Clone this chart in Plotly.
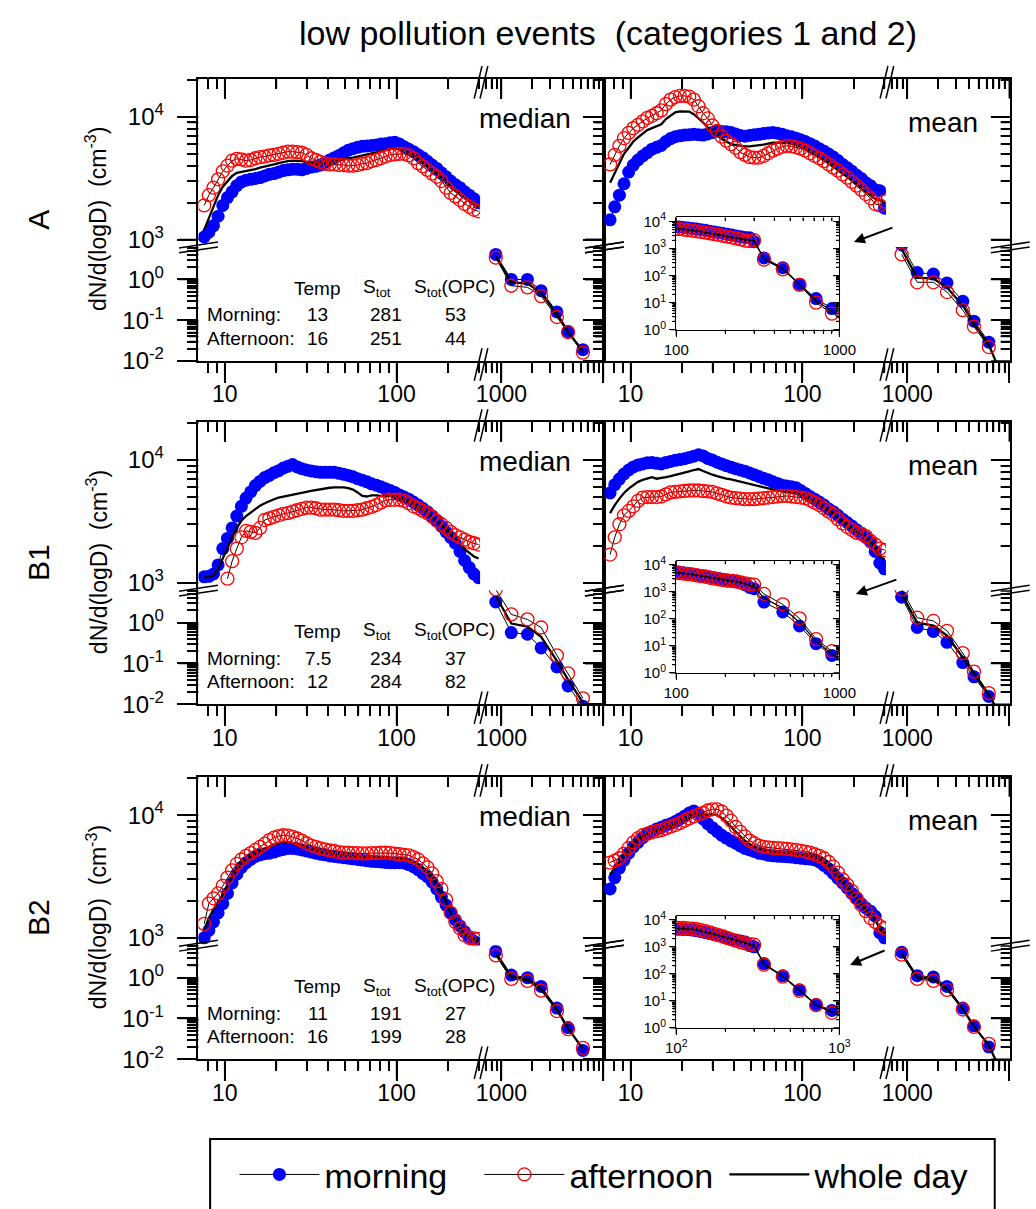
import math
import plotly.graph_objects as go

FONT = "Liberation Sans, Arial, Helvetica, sans-serif"
W, H = 1036, 1209

# ---------------- data ----------------
D_SMPS = [7.60, 8.09, 8.61, 9.16, 9.75, 10.38, 11.05, 11.76, 12.51, 13.32,
          14.17, 15.09, 16.06, 17.09, 18.19, 19.36, 20.60, 21.92, 23.33, 24.83,
          26.42, 28.12, 29.93, 31.85, 33.90, 36.08, 38.39, 40.86, 43.49, 46.28,
          49.26, 52.42, 55.79, 59.37, 63.19, 67.25, 71.57, 76.17, 81.06, 86.27,
          91.81, 97.72, 104.0, 110.7, 117.8, 125.4, 133.5, 142.1, 151.2, 160.9,
          171.3, 182.3, 194.1, 206.5, 219.8, 233.9, 248.9, 265.0, 282.0, 300.1]
D_OPC = [880, 1250, 1800, 2450, 3500, 4500, 6300, 8000]
D_INSET_OPC = [345, 450, 570, 720, 900, 1100]
INSET_FROM = 41  # first SMPS channel shown in the insets (>= ~100 nm)

# Row A, median
A_med_morn = [1050, 1150, 1300, 1550, 1900, 2200, 2450, 2750, 2950, 3050,
              3100, 3150, 3200, 3300, 3400, 3450, 3550, 3650, 3700, 3750,
              3750, 3700, 3800, 3900, 3950, 4050, 4250, 4450, 4650, 4850,
              5100, 5350, 5500, 5650, 5750, 5800, 5850, 5900, 6000, 6050,
              6150, 6200, 6000, 5700, 5450, 5200, 4900, 4650, 4350, 4050,
              3800, 3500, 3250, 3000, 2800, 2650, 2450, 2300, 2150, 2000]
A_med_aft = [1900, 2300, 2650, 3100, 3600, 4000, 4400, 4550, 4500, 4400,
             4450, 4600, 4700, 4750, 4850, 4900, 5000, 5100, 5200, 5200,
             5150, 5100, 4900, 4600, 4450, 4300, 4150, 4100, 4100, 4050,
             4050, 4000, 4000, 4050, 4150, 4200, 4350, 4450, 4600, 4750,
             4900, 4950, 5000, 5000, 4850, 4600, 4200, 3950, 3700, 3450,
             3250, 3000, 2650, 2400, 2250, 2100, 1950, 1850, 1750, 1700]
A_med_day = [1200, 1500, 1900, 2300, 2700, 3000, 3300, 3500, 3550, 3600,
             3650, 3750, 3850, 3950, 4050, 4100, 4200, 4300, 4350, 4400,
             4400, 4350, 4300, 4200, 4150, 4150, 4200, 4250, 4350, 4450,
             4550, 4600, 4650, 4750, 4850, 4900, 5000, 5100, 5250, 5350,
             5450, 5500, 5450, 5300, 5100, 4850, 4500, 4250, 3950, 3700,
             3500, 3250, 2950, 2700, 2500, 2350, 2200, 2050, 1950, 1850]
A_med_opc_morn = [4.1, 1.0, 1.0, 0.53, 0.16, 0.053, 0.019]
A_med_opc_aft = [3.4, 0.70, 0.64, 0.39, 0.12, 0.051, 0.016]
A_med_opc_day = [3.7, 0.85, 0.80, 0.46, 0.14, 0.052, 0.017]

# Row A, mean
A_mean_morn = [1450, 1850, 2300, 2850, 3550, 4050, 4450, 4800, 5100, 5450,
               5650, 5850, 6300, 6650, 6900, 7000, 7100, 7150, 7200, 7150,
               7100, 7250, 7450, 7600, 7600, 7550, 7450, 7250, 7050, 6950,
               7050, 7150, 7200, 7300, 7400, 7450, 7350, 7200, 7000, 6900,
               6700, 6500, 6300, 6050, 5800, 5500, 5250, 4980, 4700, 4400,
               4100, 3850, 3600, 3350, 3150, 2900, 2750, 2550, 2500, 1800]
A_mean_aft = [4100, 4900, 5800, 6700, 7400, 8100, 8600, 9200, 9800, 10200,
              10700, 11300, 12700, 13800, 14500, 14800, 14800, 14600, 13800, 12200,
              10700, 9700, 8500, 7700, 6900, 6400, 6000, 5600, 5150, 4900,
              4700, 4650, 4650, 4800, 5050, 5300, 5500, 5700, 5800, 5750,
              5650, 5500, 5300, 5050, 4800, 4600, 4350, 4100, 3850, 3650,
              3400, 3200, 2950, 2750, 2550, 2350, 2170, 1950, 1900, 2050]
A_mean_day = [2900, 3500, 4200, 5000, 5600, 6300, 6800, 7300, 7800, 8100,
              8400, 8700, 9600, 10300, 10900, 11100, 11100, 11050, 10500, 9800,
              9000, 8200, 7600, 7000, 6600, 6300, 6000, 5900, 5800, 5750,
              5750, 5800, 5850, 5950, 6050, 6150, 6150, 6150, 6150, 6050,
              5900, 5700, 5500, 5250, 5000, 4750, 4500, 4250, 3950, 3700,
              3450, 3250, 3050, 2850, 2650, 2450, 2300, 2150, 2100, 1950]
A_mean_opc_morn = [7.0, 1.47, 1.35, 0.82, 0.29, 0.095, 0.029]
A_mean_opc_aft = [4.1, 0.85, 0.85, 0.49, 0.176, 0.070, 0.022]
A_mean_opc_day = [5.5, 1.10, 1.05, 0.63, 0.23, 0.082, 0.025, 0.006]
A_ins_morn = [450, 195, 48, 14, 6.0]
A_ins_aft = [390, 170, 45, 9.9, 3.9]
A_ins_day = [420, 180, 46, 12, 4.8, 1.6]

# Row B1, median
B1_med_morn = [1120, 1130, 1180, 1400, 1900, 2300, 2800, 3500, 4200, 4900,
               5500, 6200, 6700, 7200, 7500, 7900, 8200, 8600, 8900, 9200,
               8800, 8500, 8300, 8150, 8050, 7950, 7950, 7950, 7950, 7800,
               7650, 7500, 7300, 7050, 6850, 6650, 6400, 6250, 6050, 5850,
               5650, 5450, 5200, 5000, 4800, 4550, 4300, 4050, 3800, 3500,
               3200, 2900, 2600, 2350, 2100, 1800, 1520, 1330, 1180, 1100]
B1_med_aft = [None, None, None, None, None, 1080, 1500, 1900, 2350, 2650,
              2600, 2550, 2800, 3250, 3350, 3450, 3550, 3650, 3700, 3800,
              3900, 4000, 4100, 4100, 4050, 3950, 3950, 3950, 3950, 3900,
              3850, 3850, 3850, 3900, 3950, 4050, 4150, 4300, 4500, 4700,
              4750, 4750, 4750, 4650, 4450, 4200, 4050, 3850, 3700, 3450,
              3200, 3000, 2800, 2600, 2450, 2350, 2250, 2150, 2100, 2050]
B1_med_day = [1100, 1120, 1150, 1300, 1600, 1950, 2350, 2800, 3200, 3500,
              3750, 4000, 4250, 4450, 4650, 4800, 4950, 5050, 5150, 5250,
              5350, 5450, 5500, 5600, 5700, 5800, 5900, 5950, 6000, 6000,
              6000, 5900, 5750, 5450, 5100, 5050, 5150, 5150, 5100, 5050,
              5150, 5050, 4950, 4800, 4600, 4350, 4150, 3950, 3750, 3480,
              3200, 2950, 2700, 2480, 2280, 2070, 1880, 1740, 1640, 1580]
B1_med_opc_morn = [3.2, 0.57, 0.52, 0.24, 0.082, 0.028, 0.009]
B1_med_opc_aft = [6.5, 1.59, 1.2, 0.76, 0.158, 0.057, 0.014]
B1_med_opc_day = [4.5, 0.95, 0.80, 0.45, 0.115, 0.040, 0.011]

# Row B1, mean
B1_mean_morn = [5400, 6300, 7000, 7700, 8300, 8800, 9100, 9300, 9500, 9550,
                9400, 9300, 9550, 9750, 9950, 10100, 10250, 10500, 10750, 11050,
                10800, 10300, 10000, 9600, 9300, 9000, 8750, 8500, 8300, 8100,
                7850, 7600, 7350, 7100, 6900, 6650, 6450, 6250, 6150, 6050,
                5950, 5650, 5350, 5050, 4800, 4550, 4300, 4000, 3800, 3550,
                3300, 3100, 2900, 2700, 2550, 2350, 2150, 1800, 1450, 1300]
B1_mean_aft = [1700, 2350, 3000, 3550, 3850, 4200, 4650, 4950, 5000, 5000,
               5000, 5050, 5250, 5450, 5500, 5550, 5600, 5650, 5650, 5650,
               5600, 5550, 5500, 5350, 5200, 5050, 4950, 4900, 4850, 4800,
               4800, 4800, 4850, 4900, 4950, 5000, 5050, 5100, 5100, 5050,
               5000, 4950, 4900, 4700, 4500, 4300, 4050, 3800, 3600, 3300,
               3050, 2850, 2700, 2550, 2500, 2400, 2200, 2050, 1900, 1850]
B1_mean_day = [3700, 4300, 4850, 5400, 5850, 6250, 6650, 6900, 7100, 7250,
               7050, 7100, 7250, 7400, 7550, 7700, 7900, 8100, 8300, 8450,
               8150, 7850, 7600, 7400, 7200, 7050, 6950, 6800, 6650, 6500,
               6400, 6250, 6100, 5950, 5850, 5750, 5650, 5550, 5450, 5400,
               5350, 5250, 5100, 4850, 4650, 4400, 4150, 3900, 3700, 3400,
               3150, 2950, 2800, 2620, 2520, 2380, 2180, 1920, 1650, 1550]
B1_mean_opc_morn = [4.2, 0.76, 0.61, 0.33, 0.105, 0.047, 0.0155]
B1_mean_opc_aft = [6.5, 1.32, 1.10, 0.63, 0.179, 0.063, 0.0187]
B1_mean_opc_day = [5.0, 1.00, 0.85, 0.48, 0.14, 0.055, 0.017, 0.006]
B1_ins_morn = [415, 180, 54, 12, 4.4]
B1_ins_aft = [830, 340, 103, 17.7, 6.3]
B1_ins_day = [580, 250, 75, 14.5, 5.3, 2.0]

# Row B2, median
B2_med_morn = [1000, 1150, 1350, 1600, 1900, 2300, 2800, 3300, 3750, 4100,
               4350, 4600, 4750, 4850, 4900, 5000, 5150, 5250, 5350, 5350,
               5300, 5200, 5100, 5000, 4900, 4800, 4750, 4650, 4600, 4550,
               4500, 4450, 4400, 4350, 4300, 4250, 4200, 4180, 4150, 4120,
               4100, 4100, 4100, 4080, 3950, 3800, 3600, 3350, 3150, 2850,
               2500, 2150, 1850, 1600, 1400, 1250, 1120, 1020, 940, 900]
B2_med_aft = [1300, 1900, 2100, 2300, 2650, 3100, 3550, 4000, 4350, 4650,
              4900, 5200, 5500, 5850, 6250, 6550, 6750, 6850, 6800, 6650,
              6450, 6200, 5900, 5650, 5500, 5350, 5250, 5150, 5100, 5000,
              4950, 4950, 4900, 4900, 4870, 4870, 4900, 4900, 4950, 4950,
              4900, 4850, 4800, 4750, 4700, 4550, 4350, 4050, 3750, 3350,
              2900, 2500, 2050, 1600, 1350, 1200, 1050, 1000, 990, 980]
B2_med_day = [1150, 1450, 1700, 1950, 2250, 2700, 3150, 3650, 4050, 4350,
              4600, 4900, 5100, 5300, 5550, 5750, 5900, 6000, 6000, 5950,
              5850, 5650, 5450, 5300, 5200, 5050, 4950, 4900, 4850, 4750,
              4700, 4650, 4650, 4600, 4550, 4550, 4550, 4500, 4550, 4500,
              4500, 4450, 4450, 4400, 4300, 4150, 3950, 3700, 3450, 3100,
              2700, 2300, 1950, 1600, 1380, 1220, 1080, 1010, 960, 940]
B2_med_opc_morn = [4.4, 1.16, 1.0, 0.61, 0.18, 0.060, 0.0165]
B2_med_opc_aft = [3.5, 0.93, 0.83, 0.48, 0.152, 0.055, 0.019]
B2_med_opc_day = [3.9, 1.05, 0.92, 0.54, 0.165, 0.057, 0.018]

# Row B2, mean
B2_mean_morn = [2500, 3100, 3700, 4300, 4900, 5500, 6000, 6550, 7050, 7400,
                7700, 7950, 8250, 8500, 8850, 9300, 9800, 10400, 10800, 10300,
                9300, 8500, 7900, 7350, 6850, 6500, 6150, 5900, 5600, 5350,
                5200, 5050, 4900, 4820, 4720, 4660, 4620, 4600, 4580, 4550,
                4500, 4450, 4420, 4380, 4320, 4150, 3900, 3650, 3350, 3050,
                2800, 2550, 2300, 2100, 1900, 1750, 1650, 1500, 1100, 1000]
B2_mean_aft = [4100, 4250, 4450, 4850, 5400, 6000, 6500, 6850, 7050, 7250,
               7400, 7550, 7800, 8050, 8300, 8600, 9000, 9400, 9750, 10100,
               10400, 10900, 11150, 11150, 10700, 9900, 9000, 8000, 7300, 6700,
               6200, 5900, 5650, 5500, 5450, 5400, 5380, 5350, 5300, 5250,
               5200, 5120, 5050, 4950, 4800, 4650, 4450, 4150, 3800, 3400,
               3000, 2700, 2400, 2100, 1850, 1650, 1450, 1350, 1250, 1200]
B2_mean_day = [3300, 3700, 4100, 4600, 5200, 5750, 6250, 6700, 7000, 7300,
               7550, 7750, 8000, 8250, 8550, 8900, 9350, 9850, 10200, 10200,
               10000, 10050, 10200, 10000, 9500, 8800, 8000, 7300, 6700, 6200,
               5800, 5500, 5300, 5180, 5100, 5050, 5000, 4980, 4950, 4900,
               4850, 4800, 4750, 4680, 4580, 4420, 4150, 3850, 3500, 3150,
               2850, 2600, 2330, 2100, 1870, 1700, 1550, 1420, 1180, 1100]
B2_mean_opc_morn = [4.2, 1.12, 1.04, 0.61, 0.18, 0.066, 0.020]
B2_mean_opc_aft = [3.65, 0.93, 0.83, 0.50, 0.166, 0.062, 0.024]
B2_mean_opc_day = [3.9, 1.02, 0.93, 0.55, 0.172, 0.064, 0.022, 0.006]
B2_ins_morn = [238, 85, 25.5, 7.3, 4.4]
B2_ins_aft = [218, 78, 23.4, 6.9, 3.6]
B2_ins_day = [228, 81, 24.4, 7.1, 4.0, 2.2]

# table values (Temp, S_tot, S_tot(OPC)) for morning / afternoon
A_table = [["13", "281", "53"], ["16", "251", "44"]]
B1_table = [["7.5", "234", "37"], ["12", "284", "82"]]
B2_table = [["11", "191", "27"], ["16", "199", "28"]]

ROW_NAMES = ["A", "B1", "B2"]
TITLE = "low pollution events\u00a0\u00a0(categories 1 and 2)"
YTITLE = "dN/d(logD)\u00a0\u00a0(cm<sup>-3</sup>)"

# tick labels
XL_MAJOR, XL_TEXT = [10, 100], ["10", "100"]
XR_MAJOR, XR_TEXT = [1000, 10000], ["1000", ""]
YU_MAJOR, YU_TEXT = [1000, 10000], ["10<sup>3</sup>", "10<sup>4</sup>"]
YL_MAJOR, YL_TEXT = [0.01, 0.1, 1], ["10<sup>-2</sup>", "10<sup>-1</sup>", "10<sup>0</sup>"]
IX_MAJOR = [100, 1000]
IX_TEXT_PLAIN = ["100", "1000"]
IX_TEXT_POW = ["10<sup>2</sup>", "10<sup>3</sup>"]
IY_MAJOR = [1, 10, 100, 1000, 10000]
IY_TEXT = ["10<sup>0</sup>", "10<sup>1</sup>", "10<sup>2</sup>", "10<sup>3</sup>", "10<sup>4</sup>"]

XL_MINOR = [8, 9] + [k * 10 for k in range(2, 10)] + [200, 300]
XR_MINOR = [700, 800, 900] + [k * 1000 for k in range(2, 10)]
YU_MINOR = [k * 1000 for k in range(2, 10)] + [20000]
YL_MINOR = [k * 0.01 for k in range(2, 10)] + [k * 0.1 for k in range(2, 10)] + [2, 3, 4, 5, 6]
IX_MINOR = [k * 100 for k in range(2, 10)]
IY_MINOR = [k * 10 ** e for e in range(0, 4) for k in range(2, 10)]

PANELS = [
    dict(row=0, col=0, label="median", morn=A_med_morn, aft=A_med_aft, day=A_med_day,
         om=A_med_opc_morn, oa=A_med_opc_aft, od=A_med_opc_day, table=A_table),
    dict(row=0, col=1, label="mean", morn=A_mean_morn, aft=A_mean_aft, day=A_mean_day,
         om=A_mean_opc_morn, oa=A_mean_opc_aft, od=A_mean_opc_day,
         inset=(A_ins_morn, A_ins_aft, A_ins_day), itext=IX_TEXT_PLAIN),
    dict(row=1, col=0, label="median", morn=B1_med_morn, aft=B1_med_aft, day=B1_med_day,
         om=B1_med_opc_morn, oa=B1_med_opc_aft, od=B1_med_opc_day, table=B1_table),
    dict(row=1, col=1, label="mean", morn=B1_mean_morn, aft=B1_mean_aft, day=B1_mean_day,
         om=B1_mean_opc_morn, oa=B1_mean_opc_aft, od=B1_mean_opc_day,
         inset=(B1_ins_morn, B1_ins_aft, B1_ins_day), itext=IX_TEXT_PLAIN),
    dict(row=2, col=0, label="median", morn=B2_med_morn, aft=B2_med_aft, day=B2_med_day,
         om=B2_med_opc_morn, oa=B2_med_opc_aft, od=B2_med_opc_day, table=B2_table),
    dict(row=2, col=1, label="mean", morn=B2_mean_morn, aft=B2_mean_aft, day=B2_mean_day,
         om=B2_mean_opc_morn, oa=B2_mean_opc_aft, od=B2_mean_opc_day,
         inset=(B2_ins_morn, B2_ins_aft, B2_ins_day), itext=IX_TEXT_POW),
]

# ---------------- geometry (pixels) ----------------
ROW_TOP = [73, 422, 783]
UP_H, LO_H = 171, 116
COLS = [(191, 481, 609), (609, 899, 1027)]
XL_RANGE = [0.8475, 2.486]
XR_RANGE = [2.7905, 4.0095]
YU_RANGE = [2.94, 4.31]
YL_RANGE = [-2.0, 0.795]
IX_RANGE = [2, 3]
IY_RANGE = [0, 4.15]
INSET_X = (683, 851)
INSET_Y = (141, 255)
ARROWS = [((866, 239), (40, -15)), ((868, 597), (42, -15)), ((862, 974), (36, -15))]


def fx(px):
    return px / W


def fy(py):
    return 1 - py / H


def xid(n):
    return "x" if n == 1 else f"x{n}"


def yid(n):
    return "y" if n == 1 else f"y{n}"


def xkey(n):
    return "xaxis" if n == 1 else f"xaxis{n}"


def ykey(n):
    return "yaxis" if n == 1 else f"yaxis{n}"


def log_axis(domain, rng, major, text, minor, side, ticks, showlabels, anchor,
             ticklen=20, minorlen=10, fontsize=23, standoff=None, lw=1.5):
    d = dict(type="log", range=rng, anchor=anchor, side=side, domain=domain,
             showline=True, linecolor="black", linewidth=lw,
             showgrid=False, zeroline=False,
             ticks=ticks, ticklen=ticklen, tickwidth=lw, tickcolor="black",
             tickmode="array", tickvals=major, ticktext=text,
             showticklabels=showlabels,
             tickfont=dict(family=FONT, size=fontsize, color="black"),
             minor=dict(tickmode="array", tickvals=minor, ticks=ticks, ticklen=minorlen,
                        tickwidth=lw, tickcolor="black", showgrid=False))
    if standoff is not None:
        d["ticklabelstandoff"] = standoff
    return d


# tick marks along the axis frames (same log scale as the axes: domain + range)
def _frac(v, rng):
    return (math.log10(v) - rng[0]) / (rng[1] - rng[0])


def x_ticks(vals, rng, p0, p1, ybase, length):
    segs = []
    for v in vals:
        f = _frac(v, rng)
        if 0 <= f <= 1:
            xp = p0 + f * (p1 - p0)
            segs.append(f"M{fx(xp):.5f},{fy(ybase):.5f}L{fx(xp):.5f},{fy(ybase + length):.5f}")
    return segs


def y_ticks(vals, rng, top, bottom, xbase, length):
    segs = []
    for v in vals:
        f = _frac(v, rng)
        if 0 <= f <= 1:
            yp = bottom - f * (bottom - top)
            segs.append(f"M{fx(xbase):.5f},{fy(yp):.5f}L{fx(xbase - length):.5f},{fy(yp):.5f}")
    return segs


def tick_shape(segs, width):
    return dict(type="path", xref="paper", yref="paper", path="".join(segs),
                line=dict(color="black", width=width))


MORN = dict(mode="lines+markers", line=dict(color="black", width=1),
            marker=dict(symbol="circle", color="#0000ff", size=13))
AFT = dict(mode="lines+markers", line=dict(color="black", width=1),
           marker=dict(symbol="circle-open", color="#ff0000", size=13, line=dict(width=1.3)))
DAY = dict(mode="lines", line=dict(color="black", width=2.3))

layout = {}
traces = []
shapes = []
annotations = []

for p, P in enumerate(PANELS):
    T = ROW_TOP[P["row"]]
    B = T + UP_H + LO_H
    x0, xb, x1 = COLS[P["col"]]
    b = 4 * p
    xLb, xLt, xRb, xRt = b + 1, b + 2, b + 3, b + 4
    yUl, yUr, yLl, yLr = b + 1, b + 2, b + 3, b + 4
    xl_dom = [fx(x0), fx(xb)]
    xr_dom = [fx(xb), fx(x1)]
    up_dom = [fy(T + UP_H), fy(T)]
    lo_dom = [fy(B), fy(T + UP_H)]
    showy = P["col"] == 0

    # four corner pairs, each x/y anchored to each other
    layout[xkey(xLt)] = log_axis(xl_dom, XL_RANGE, XL_MAJOR, XL_TEXT, XL_MINOR, "top", "inside",
                                 False, yid(yUl))
    layout[ykey(yUl)] = log_axis(up_dom, YU_RANGE, YU_MAJOR, YU_TEXT, YU_MINOR, "left", "outside",
                                 showy, xid(xLt), fontsize=24, standoff=8)
    layout[xkey(xRb)] = log_axis(xr_dom, XR_RANGE, XR_MAJOR, XR_TEXT, XR_MINOR, "bottom", "outside",
                                 True, yid(yLr), standoff=-8)
    layout[ykey(yLr)] = log_axis(lo_dom, YL_RANGE, YL_MAJOR, YL_TEXT, YL_MINOR, "right", "inside",
                                 False, xid(xRb))
    layout[xkey(xLb)] = log_axis(xl_dom, XL_RANGE, XL_MAJOR, XL_TEXT, XL_MINOR, "bottom", "outside",
                                 True, yid(yLl), standoff=-8)
    layout[ykey(yLl)] = log_axis(lo_dom, YL_RANGE, YL_MAJOR, YL_TEXT, YL_MINOR, "left", "outside",
                                 showy, xid(xLb), fontsize=24, standoff=8)
    layout[xkey(xRt)] = log_axis(xr_dom, XR_RANGE, XR_MAJOR, XR_TEXT, XR_MINOR, "top", "inside",
                                 False, yid(yUr))
    layout[ykey(yUr)] = log_axis(up_dom, YU_RANGE, YU_MAJOR, YU_TEXT, YU_MINOR, "right", "inside",
                                 False, xid(xRt))

    first = p == 0
    sm = dict(xaxis=xid(xLt), yaxis=yid(yUl))
    op = dict(xaxis=xid(xRb), yaxis=yid(yLr))
    traces.append(go.Scatter(x=D_SMPS, y=P["morn"], name="morning", legendgroup="m",
                             legendrank=1, showlegend=first, **MORN, **sm))
    traces.append(go.Scatter(x=D_SMPS, y=P["day"], name="whole day", legendgroup="d",
                             legendrank=3, showlegend=first, **DAY, **sm))
    traces.append(go.Scatter(x=D_SMPS, y=P["aft"], name="afternoon", legendgroup="a",
                             legendrank=2, showlegend=first, **AFT, **sm))
    traces.append(go.Scatter(x=D_OPC[:len(P["om"])], y=P["om"], legendgroup="m",
                             showlegend=False, **MORN, **op))
    traces.append(go.Scatter(x=D_OPC[:len(P["od"])], y=P["od"], legendgroup="d",
                             showlegend=False, **DAY, **op))
    traces.append(go.Scatter(x=D_OPC[:len(P["oa"])], y=P["oa"], legendgroup="a",
                             showlegend=False, **AFT, **op))
    # the whole-day series also registered against the other two corner pairs
    # (there they fall outside the visible range, so they only carry the frame axes)
    traces.append(go.Scatter(x=D_OPC[:len(P["od"])], y=P["od"], showlegend=False, **DAY,
                             xaxis=xid(xLb), yaxis=yid(yLl)))
    traces.append(go.Scatter(x=D_SMPS, y=P["day"], showlegend=False, **DAY,
                             xaxis=xid(xRt), yaxis=yid(yUr)))

    # frame tick marks: x ticks point down (outside at bottom, inside at top),
    # y ticks point left (outside on the left, inside on the right)
    for vals, ln in ((XL_MAJOR, 20), (XL_MINOR, 10)):
        shapes.append(tick_shape(x_ticks(vals, XL_RANGE, x0, xb, B, ln) +
                                 x_ticks(vals, XL_RANGE, x0, xb, T, ln), 1.5))
    for vals, ln in ((XR_MAJOR, 20), (XR_MINOR, 10)):
        shapes.append(tick_shape(x_ticks(vals, XR_RANGE, xb, x1, B, ln) +
                                 x_ticks(vals, XR_RANGE, xb, x1, T, ln), 1.5))
    for vals, ln in ((YU_MAJOR, 20), (YU_MINOR, 10)):
        shapes.append(tick_shape(y_ticks(vals, YU_RANGE, T, T + UP_H, x0, ln) +
                                 y_ticks(vals, YU_RANGE, T, T + UP_H, x1, ln), 1.5))
    for vals, ln in ((YL_MAJOR, 20), (YL_MINOR, 10)):
        shapes.append(tick_shape(y_ticks(vals, YL_RANGE, T + UP_H, B, x0, ln) +
                                 y_ticks(vals, YL_RANGE, T + UP_H, B, x1, ln), 1.5))

    # panel label
    if P["label"] == "median":
        annotations.append(dict(text="median", x=fx(527), y=fy(T + 40), showarrow=False,
                                xanchor="center", yanchor="middle",
                                font=dict(family=FONT, size=28, color="black")))
    else:
        annotations.append(dict(text="mean", x=fx(958), y=fy(T + 44), showarrow=False,
                                xanchor="center", yanchor="middle",
                                font=dict(family=FONT, size=28, color="black")))

    # table
    if "table" in P:
        tf = dict(family=FONT, size=19, color="black")
        for txt, xx in (("Temp", 313), ("S<sub>tot</sub>", 375), ("S<sub>tot</sub>(OPC)", 455)):
            annotations.append(dict(text=txt, x=fx(xx), y=fy(T + 213), showarrow=False,
                                    xanchor="center", yanchor="middle", font=tf))
        for k, (rowname, yy) in enumerate((("Morning:", T + 240), ("Afternoon:", T + 264))):
            annotations.append(dict(text=rowname, x=fx(198), y=fy(yy), showarrow=False,
                                    xanchor="left", yanchor="middle", font=tf))
            for val, xx in zip(P["table"][k], (314, 384, 456)):
                annotations.append(dict(text=val, x=fx(xx), y=fy(yy), showarrow=False,
                                        xanchor="center", yanchor="middle", font=tf))

    # x-break marks (top and bottom)
    for yy in (T, B):
        for dx in (0, 6):
            shapes.append(dict(type="line", xref="paper", yref="paper",
                               x0=fx(xb - 6 + dx), y0=fy(yy + 20), x1=fx(xb + 2 + dx), y1=fy(yy - 13),
                               line=dict(color="black", width=1.5)))
    # y-break marks (left and right)
    yb = T + UP_H
    for xa in (x0, x1):
        for dy in (0, 5):
            shapes.append(dict(type="line", xref="paper", yref="paper",
                               x0=fx(xa - 20), y0=fy(yb + 1 + dy), x1=fx(xa + 20), y1=fy(yb - 5 + dy),
                               line=dict(color="black", width=1.5)))

    # insets
    if "inset" in P:
        k = P["row"]
        ixb, ixt = 25 + 2 * k, 26 + 2 * k
        iyl, iyr = 25 + 2 * k, 26 + 2 * k
        ix0, ix1 = INSET_X
        iy0, iy1 = T + INSET_Y[0], T + INSET_Y[1]
        idom_x = [fx(ix0), fx(ix1)]
        idom_y = [fy(iy1), fy(iy0)]
        common = dict(ticklen=6, minorlen=3.5, fontsize=15, lw=1.3)
        layout[xkey(ixb)] = log_axis(idom_x, IX_RANGE, IX_MAJOR, P["itext"], IX_MINOR,
                                     "bottom", "outside", True, yid(iyl), **common)
        layout[ykey(iyl)] = log_axis(idom_y, IY_RANGE, IY_MAJOR, IY_TEXT, IY_MINOR,
                                     "left", "outside", True, xid(ixb), **common)
        layout[xkey(ixt)] = log_axis(idom_x, IX_RANGE, IX_MAJOR, P["itext"], IX_MINOR,
                                     "top", "inside", False, yid(iyr), **common)
        layout[ykey(iyr)] = log_axis(idom_y, IY_RANGE, IY_MAJOR, IY_TEXT, IY_MINOR,
                                     "right", "inside", False, xid(ixt), **common)
        for vals, ln in ((IX_MAJOR, 6), (IX_MINOR, 3.5)):
            shapes.append(tick_shape(x_ticks(vals, IX_RANGE, ix0, ix1, iy1, ln) +
                                     x_ticks(vals, IX_RANGE, ix0, ix1, iy0, ln), 1.2))
        for vals, ln in ((IY_MAJOR, 6), (IY_MINOR, 3.5)):
            shapes.append(tick_shape(y_ticks(vals, IY_RANGE, iy0, iy1, ix0, ln) +
                                     y_ticks(vals, IY_RANGE, iy0, iy1, ix1, ln), 1.2))
        im, ia, idy = P["inset"]
        ins = dict(xaxis=xid(ixb), yaxis=yid(iyl), showlegend=False)
        ins_twin = dict(xaxis=xid(ixt), yaxis=yid(iyr), showlegend=False)
        xs = D_SMPS[INSET_FROM:]
        traces.append(go.Scatter(x=xs + D_INSET_OPC[:len(im)], y=P["morn"][INSET_FROM:] + im, **MORN, **ins))
        traces.append(go.Scatter(x=xs + D_INSET_OPC[:len(ia)], y=P["aft"][INSET_FROM:] + ia, **AFT, **ins))
        traces.append(go.Scatter(x=xs + D_INSET_OPC[:len(idy)], y=P["day"][INSET_FROM:] + idy,
                                 mode="lines", line=dict(color="black", width=1.3), **ins_twin))
        (hx, hy), (ax_, ay_) = ARROWS[k]
        annotations.append(dict(text="", x=fx(hx), y=fy(hy), xref="paper", yref="paper",
                                showarrow=True, ax=ax_, ay=ay_, arrowhead=2, arrowsize=1.1,
                                arrowwidth=2, arrowcolor="black"))

# row labels and y-axis titles
for r, T in enumerate(ROW_TOP):
    annotations.append(dict(text=ROW_NAMES[r], x=fx(26), y=fy(T + 143), showarrow=False,
                            textangle=-90, xanchor="center", yanchor="middle",
                            font=dict(family=FONT, size=30, color="black")))
    annotations.append(dict(text=YTITLE, x=fx(86), y=fy(T + 143), showarrow=False,
                            textangle=-90, xanchor="center", yanchor="middle",
                            font=dict(family=FONT, size=23, color="black")))

annotations.append(dict(text=TITLE, x=fx(613), y=fy(26), showarrow=False,
                        xanchor="center", yanchor="middle",
                        font=dict(family=FONT, size=34, color="black")))

# legend box
shapes.append(dict(type="rect", xref="paper", yref="paper", x0=fx(203), x1=fx(1011),
                   y0=fy(1151), y1=fy(1225), line=dict(color="black", width=2),
                   fillcolor="rgba(0,0,0,0)"))

for a in annotations:
    a.setdefault("xref", "paper")
    a.setdefault("yref", "paper")

fig = go.Figure(data=traces)
fig.update_layout(
    width=W, height=H, autosize=False,
    margin=dict(l=0, r=0, t=0, b=0),
    paper_bgcolor="white", plot_bgcolor="rgba(0,0,0,0)",
    shapes=shapes, annotations=annotations,
    legend=dict(orientation="h", x=fx(228), y=fy(1158), xanchor="left", yanchor="top",
                font=dict(family=FONT, size=34, color="black"),
                bgcolor="rgba(0,0,0,0)", borderwidth=0, itemwidth=80,
                entrywidth=150, entrywidthmode="pixels", traceorder="normal"),
    **layout,
)
fig.write_html("out.html", include_plotlyjs=True, config={"displayModeBar": False})
